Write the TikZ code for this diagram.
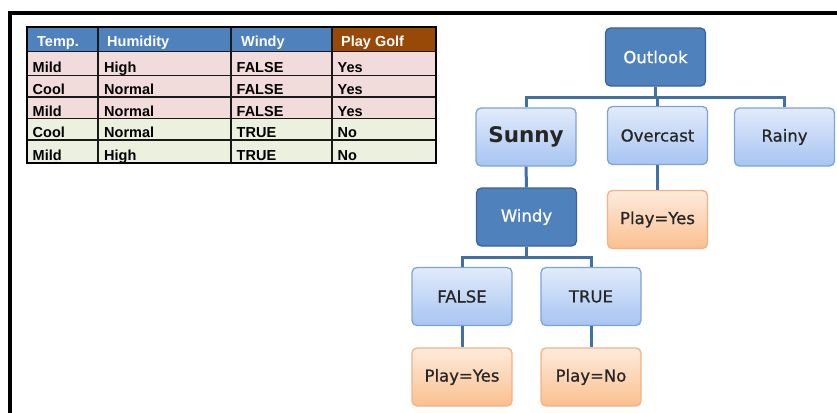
\documentclass[tikz,border=0pt]{standalone}
\usepackage{fontspec}
\setmainfont{DejaVu Sans}
\newfontfamily\tabfont{Liberation Sans}
\newfontfamily\treefont[FakeBold=0.8]{DejaVu Sans}

\definecolor{hdrblue}{HTML}{4F81BD}
\definecolor{hdrbrown}{HTML}{984807}
\definecolor{rowpink}{HTML}{F2DCDB}
\definecolor{rowgreen}{HTML}{EBF1DE}
\definecolor{darkfill}{HTML}{4F81BD}
\definecolor{darkedge}{HTML}{3A6496}
\definecolor{lighttop}{HTML}{E2EBFA}
\definecolor{lightbot}{HTML}{A7C4F2}
\definecolor{lightedge}{HTML}{7EA3D9}
\definecolor{orangetop}{HTML}{FDEBDD}
\definecolor{orangebot}{HTML}{FAC08F}
\definecolor{orangeedge}{HTML}{F4B183}
\definecolor{linkblue}{HTML}{4170A8}

\begin{document}
\begin{tikzpicture}[x=1pt,y=-1pt,
  box/.style={rectangle, rounded corners=5pt, minimum width=100pt, minimum height=58pt,
              line width=1.3pt, inner sep=0pt,
              font=\treefont\fontsize{16.5}{19}\selectfont},
  darkbox/.style={box, draw=darkedge, fill=darkfill, text=white},
  lightbox/.style={box, draw=lightedge, top color=lighttop, bottom color=lightbot, text=black!85},
  leafbox/.style={box, draw=orangeedge, top color=orangetop, bottom color=orangebot, text=black!85},
  link/.style={draw=linkblue, line width=3pt},
  hdrtxt/.style={anchor=base west, inner sep=0pt, text=white,
                 font=\tabfont\bfseries\fontsize{14.5}{17}\selectfont},
  celltxt/.style={anchor=base west, inner sep=0pt, text=black,
                  font=\tabfont\bfseries\fontsize{14.5}{17}\selectfont},
  grid/.style={draw=black!90, line width=1.6pt}
]
\useasboundingbox (0,0) rectangle (837,412);

% open outer frame
\draw[line width=3.5pt] (10,420) -- (10,13) -- (845,13);

% ---------- data table ----------
\fill[hdrblue]  (27,27) rectangle (332,51.5);
\fill[hdrbrown] (332,27) rectangle (436,51.5);
\fill[rowpink]  (27,51.5) rectangle (436,118.5);
\fill[rowgreen] (27,118.5) rectangle (436,163);
% grid lines
\foreach \y in {51.5,75.5,97,118.5,140}
  \draw[grid] (27,\y) -- (436,\y);
\foreach \x in {98,231,332}
  \draw[grid] (\x,27) -- (\x,163);
\draw[line width=2.4pt] (27,27) rectangle (436,163);

% header texts
\node[hdrtxt] (hT) at (37,46) {Temp.};
\node[hdrtxt] (hH) at (107,46) {Humidity};
\node[hdrtxt] (hW) at (241,46) {Windy};
\node[hdrtxt] (hP) at (341,46) {Play Golf};

% body texts
\foreach \i/\yb/\t/\h/\w/\p in {
    1/72.5/Mild/High/FALSE/Yes,
    2/94.5/Cool/Normal/FALSE/Yes,
    3/116/Mild/Normal/FALSE/Yes,
    4/137.5/Cool/Normal/TRUE/No,
    5/160.5/Mild/High/TRUE/No}{
  \node[celltxt] (t\i) at (32.5,\yb) {\t};
  \node[celltxt] (h\i) at (104,\yb) {\h};
  \node[celltxt] (w\i) at (236.5,\yb) {\w};
  \node[celltxt] (p\i) at (337.5,\yb) {\p};
}

% ---------- decision tree ----------
% branch buses
\coordinate (busA) at (655.5,97);
\coordinate (busB) at (526.5,257);

\node[darkbox]  (outlook)  at (655.5,57)   {Outlook};
\node[lightbox] (sunny)    at (526,137)    {\rmfamily\bfseries\fontsize{21.5}{24}\selectfont Sunny};
\node[lightbox] (overcast) at (657.5,135.5) {Overcast};
\node[lightbox] (rainy)    at (784.5,137)  {Rainy};
\node[darkbox]  (windy)    at (526.5,217)  {Windy};
\node[leafbox]  (yes1)     at (657.5,219.5) {Play=Yes};
\node[lightbox] (false)    at (462,296.5)  {FALSE};
\node[lightbox] (true)     at (591,296.5)  {TRUE};
\node[leafbox]  (yes2)     at (462,377)    {Play=Yes};
\node[leafbox]  (no)       at (591,377)    {Play=No};

\draw[link] (outlook.south) -- (busA);
\draw[link] (sunny.north) |- (busA) -| (rainy.north);
\draw[link] (overcast.north) -- (overcast.north |- busA);
\draw[link] (overcast.south) -- (yes1.north);
\draw[link] (sunny.south) -- (windy.north);
\draw[link] (windy.south) -- (busB);
\draw[link] (false.north) |- (busB) -| (true.north);
\draw[link] (false.south) -- (yes2.north);
\draw[link] (true.south) -- (no.north);
\end{tikzpicture}
\end{document}
